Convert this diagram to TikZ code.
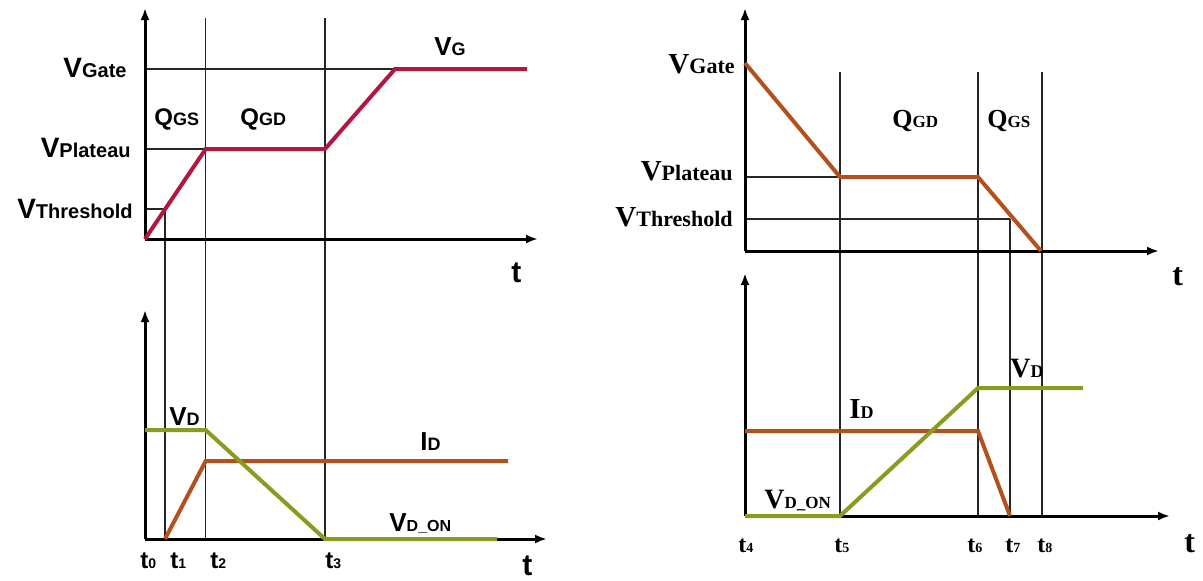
\documentclass[tikz,border=0pt]{standalone}
\usepackage{fontspec}
\setmainfont{Liberation Sans}
\newfontfamily\serifb{Liberation Serif}
\usetikzlibrary{arrows.meta}
\newcommand{\sz}[2]{{\fontsize{#1}{#1}\selectfont #2}}
\definecolor{vgred}{HTML}{B2173F}
\definecolor{idbrown}{HTML}{B3501C}
\definecolor{vdolive}{HTML}{8B9B1F}
\tikzset{
  thin line/.style={line width=0.6pt, black!85},
  axisline/.style={line width=1.5pt, -{Latex[length=6pt,width=4.5pt]}},
  curve/.style={line width=2pt},
  lblL/.style={inner sep=0pt, font=\bfseries},
  lblR/.style={inner sep=0pt, font=\serifb\bfseries},
}
\begin{document}
\begin{tikzpicture}[x=0.5pt,y=-0.5pt]
\useasboundingbox[fill=white] (0,0) rectangle (1203,580);
% ---------- LEFT ----------
% thin guide lines
\draw[thin line] (145,69) -- (395,69);
\draw[thin line] (145,149) -- (205.7,149);
\draw[thin line] (145,209) -- (165,209);
\draw[thin line] (165,209) -- (165,539);
\draw[thin line] (205.7,18) -- (205.7,539);
\draw[thin line] (325,18) -- (325,539);
% axes
\draw[axisline] (145,239) -- (538,239);
\draw[axisline] (145,239) -- (145,8);
\draw[axisline] (145,539) -- (547,539);
\draw[axisline] (145,539) -- (145,310);
% curves
\draw[curve, vgred] (145,239) -- (205.7,149) -- (325,149) -- (395,69) -- (527,69);
\draw[curve, idbrown] (165,539) -- (205.7,461) -- (508,461);
\draw[curve, vdolive] (145,430) -- (205.7,430) -- (325,539) -- (497,539);
% labels
\node[lblL, anchor=base east] (LvGate) at (127,77) {\sz{14}{V}\sz{10}{Gate}};
\node[lblL, anchor=base east] (LvPlat) at (131,157) {\sz{14}{V}\sz{10}{Plateau}};
\node[lblL, anchor=base east] (LvThr) at (133,218) {\sz{14}{V}\sz{10}{Threshold}};
\node[lblL, anchor=base west] (LvG) at (434,55) {\sz{13}{V}\sz{9}{G}};
\node[lblL, anchor=base west] (LqGS) at (154,125) {\sz{12}{Q}\sz{9}{GS}};
\node[lblL, anchor=base west] (LqGD) at (240,125) {\sz{12}{Q}\sz{9}{GD}};
\node[lblL, anchor=base west] (Lt) at (511,282) {\sz{15}{t}};
\node[lblL, anchor=base west] (LvD) at (169,425) {\sz{13}{V}\sz{9}{D}};
\node[lblL, anchor=base west] (LiD) at (420,450) {\sz{13}{I}\sz{9}{D}};
\node[lblL, anchor=base west] (LvDon) at (389,531) {\sz{13}{V}\sz{8}{D\_ON}};
\node[lblL, anchor=base west] (Lt0) at (140,568) {\sz{12}{t}\sz{7}{0}};
\node[lblL, anchor=base west] (Lt1) at (170,568) {\sz{12}{t}\sz{7}{1}};
\node[lblL, anchor=base west] (Lt2) at (210,568) {\sz{12}{t}\sz{7}{2}};
\node[lblL, anchor=base west] (Lt3) at (325,568) {\sz{12}{t}\sz{7}{3}};
\node[lblL, anchor=base west] (Ltb) at (522,575) {\sz{15}{t}};
% ---------- RIGHT ----------
\draw[thin line] (745,177) -- (840,177);
\draw[thin line] (745,219) -- (1010,219);
\draw[thin line] (840,72) -- (840,516);
\draw[thin line] (978,72) -- (978,516);
\draw[thin line] (1010,219) -- (1010,516);
\draw[thin line] (1042,72) -- (1042,516);
\draw[axisline] (745,251) -- (1159,251);
\draw[axisline] (745,251) -- (745,8);
\draw[axisline] (745,516) -- (1170,516);
\draw[axisline] (745,516) -- (745,273);
\draw[curve, idbrown] (745,63) -- (840,177) -- (978,177) -- (1041,251);
\draw[curve, idbrown] (745,431) -- (978,431) -- (1010,516);
\draw[curve, vdolive] (745,516) -- (840,516) -- (978,388) -- (1083,388);
\node[lblR, anchor=base east] (RvGate) at (735,73) {\sz{14.5}{V}\sz{11}{Gate}};
\node[lblR, anchor=base east] (RvPlat) at (733,180) {\sz{14.5}{V}\sz{11}{Plateau}};
\node[lblR, anchor=base east] (RvThr) at (733,226) {\sz{14.5}{V}\sz{11}{Threshold}};
\node[lblR, anchor=base west] (RqGD) at (892,127) {\sz{13}{Q}\sz{8.5}{GD}};
\node[lblR, anchor=base west] (RqGS) at (987,127) {\sz{13}{Q}\sz{8.5}{GS}};
\node[lblR, anchor=base west] (Rt) at (1172,285) {\sz{16}{t}};
\node[lblR, anchor=base west] (RvD) at (1010,377) {\sz{14}{V}\sz{9}{D}};
\node[lblR, anchor=base west] (RiD) at (849,418) {\sz{14.5}{I}\sz{9}{D}};
\node[lblR, anchor=base west] (RvDon) at (764,508) {\sz{14}{V}\sz{8.5}{D\_ON}};
\node[lblR, anchor=base west] (Rt4) at (738,552) {\sz{12}{t}\sz{7}{4}};
\node[lblR, anchor=base west] (Rt5) at (834,552) {\sz{12}{t}\sz{7}{5}};
\node[lblR, anchor=base west] (Rt6) at (967,552) {\sz{12}{t}\sz{7}{6}};
\node[lblR, anchor=base west] (Rt7) at (1005,552) {\sz{12}{t}\sz{7}{7}};
\node[lblR, anchor=base west] (Rt8) at (1037,552) {\sz{12}{t}\sz{7}{8}};
\node[lblR, anchor=base west] (Rtb) at (1184,552) {\sz{16}{t}};
\end{tikzpicture}
\end{document}
